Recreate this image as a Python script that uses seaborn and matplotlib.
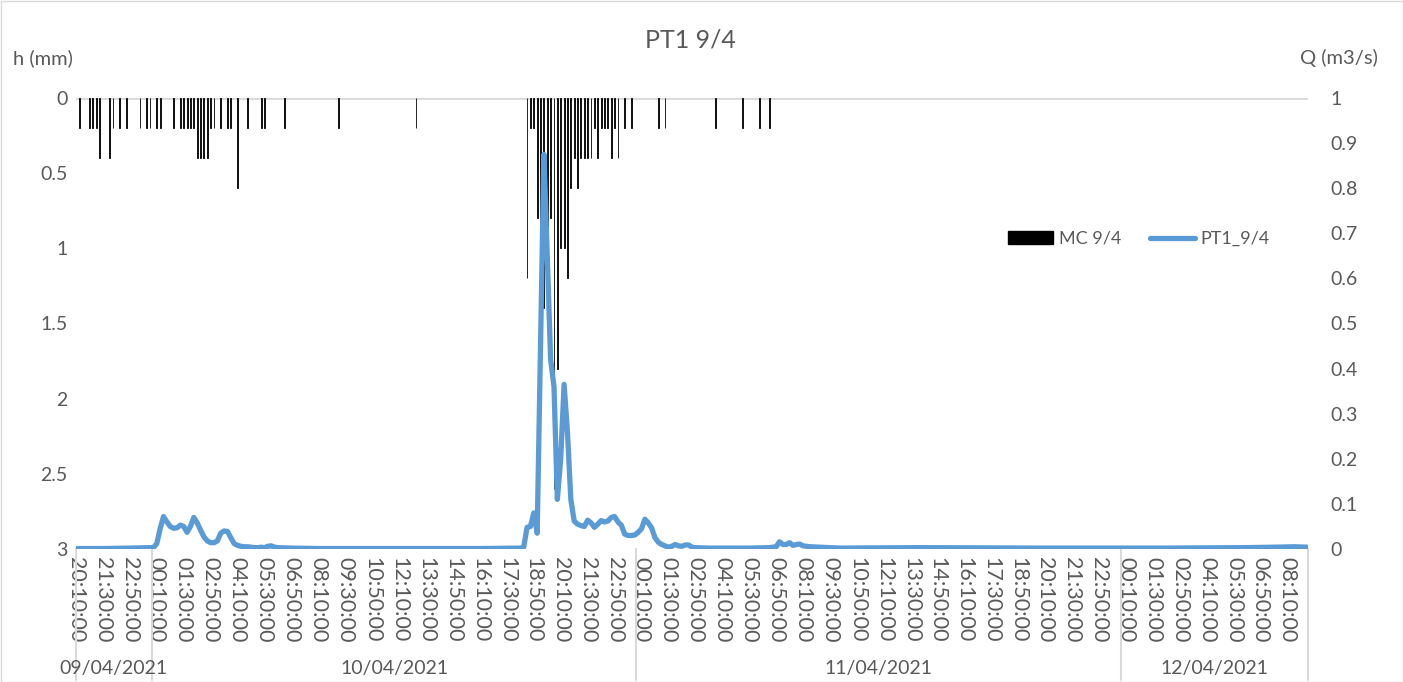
import matplotlib.pyplot as plt
import pandas as pd
import seaborn as sns
from matplotlib.lines import Line2D
from matplotlib.patches import Patch, Rectangle

# rain gauge (MC 9/4), mm per 10 min
rain_times = [
    "2021-04-09 20:20", "2021-04-09 20:50", "2021-04-09 21:00", "2021-04-09 21:10",
    "2021-04-09 21:20", "2021-04-09 21:50", "2021-04-09 22:00", "2021-04-09 22:20",
    "2021-04-09 22:40", "2021-04-09 23:20", "2021-04-09 23:40", "2021-04-09 23:50",
    "2021-04-10 00:10", "2021-04-10 00:20", "2021-04-10 01:00", "2021-04-10 01:20",
    "2021-04-10 01:30", "2021-04-10 01:40", "2021-04-10 01:50", "2021-04-10 02:00",
    "2021-04-10 02:10", "2021-04-10 02:20", "2021-04-10 02:30", "2021-04-10 02:40",
    "2021-04-10 02:50", "2021-04-10 03:00", "2021-04-10 03:20", "2021-04-10 03:40",
    "2021-04-10 03:50", "2021-04-10 04:10", "2021-04-10 04:40", "2021-04-10 05:20",
    "2021-04-10 05:30", "2021-04-10 06:30", "2021-04-10 09:10", "2021-04-10 13:00",
    "2021-04-10 18:30", "2021-04-10 18:40", "2021-04-10 18:50", "2021-04-10 19:00",
    "2021-04-10 19:10", "2021-04-10 19:20", "2021-04-10 19:30", "2021-04-10 19:40",
    "2021-04-10 19:50", "2021-04-10 20:00", "2021-04-10 20:10", "2021-04-10 20:20",
    "2021-04-10 20:30", "2021-04-10 20:40", "2021-04-10 20:50", "2021-04-10 21:00",
    "2021-04-10 21:10", "2021-04-10 21:20", "2021-04-10 21:30", "2021-04-10 21:40",
    "2021-04-10 21:50", "2021-04-10 22:00", "2021-04-10 22:10", "2021-04-10 22:20",
    "2021-04-10 22:30", "2021-04-10 22:40", "2021-04-10 22:50", "2021-04-10 23:00",
    "2021-04-10 23:20", "2021-04-10 23:40", "2021-04-11 01:00", "2021-04-11 01:20",
    "2021-04-11 03:50", "2021-04-11 05:10", "2021-04-11 06:00", "2021-04-11 06:30",
]
rain_mm = [
    0.2, 0.2, 0.2, 0.2,
    0.4, 0.4, 0.2, 0.2,
    0.2, 0.2, 0.2, 0.2,
    0.2, 0.2, 0.2, 0.2,
    0.2, 0.2, 0.2, 0.2,
    0.4, 0.4, 0.4, 0.4,
    0.2, 0.2, 0.2, 0.2,
    0.2, 0.6, 0.2, 0.2,
    0.2, 0.2, 0.2, 0.2,
    1.2, 0.2, 0.2, 0.8,
    1.0, 1.4, 1.2, 0.8,
    2.6, 1.8, 1.0, 1.0,
    1.2, 0.6, 0.4, 0.6,
    0.4, 0.4, 0.4, 0.4,
    0.2, 0.4, 0.2, 0.2,
    0.2, 0.4, 0.2, 0.4,
    0.2, 0.2, 0.2, 0.2,
    0.2, 0.2, 0.2, 0.2,
]

# discharge PT1_9/4, m3/s
flow_times = [
    "2021-04-09 20:10", "2021-04-09 21:30", "2021-04-09 22:50", "2021-04-09 23:50",
    "2021-04-10 00:00", "2021-04-10 00:10", "2021-04-10 00:20", "2021-04-10 00:30",
    "2021-04-10 00:40", "2021-04-10 00:50", "2021-04-10 01:00", "2021-04-10 01:10",
    "2021-04-10 01:20", "2021-04-10 01:30", "2021-04-10 01:40", "2021-04-10 01:50",
    "2021-04-10 02:00", "2021-04-10 02:10", "2021-04-10 02:20", "2021-04-10 02:30",
    "2021-04-10 02:40", "2021-04-10 02:50", "2021-04-10 03:00", "2021-04-10 03:10",
    "2021-04-10 03:20", "2021-04-10 03:30", "2021-04-10 03:40", "2021-04-10 03:50",
    "2021-04-10 04:00", "2021-04-10 04:10", "2021-04-10 04:20", "2021-04-10 04:30",
    "2021-04-10 04:40", "2021-04-10 04:50", "2021-04-10 05:00", "2021-04-10 05:10",
    "2021-04-10 05:20", "2021-04-10 05:30", "2021-04-10 05:40", "2021-04-10 05:50",
    "2021-04-10 06:00", "2021-04-10 06:10", "2021-04-10 06:50", "2021-04-10 08:10",
    "2021-04-10 12:10", "2021-04-10 16:10", "2021-04-10 18:10", "2021-04-10 18:20",
    "2021-04-10 18:30", "2021-04-10 18:40", "2021-04-10 18:50", "2021-04-10 19:00",
    "2021-04-10 19:10", "2021-04-10 19:20", "2021-04-10 19:30", "2021-04-10 19:40",
    "2021-04-10 19:50", "2021-04-10 20:00", "2021-04-10 20:10", "2021-04-10 20:20",
    "2021-04-10 20:30", "2021-04-10 20:40", "2021-04-10 20:50", "2021-04-10 21:00",
    "2021-04-10 21:10", "2021-04-10 21:20", "2021-04-10 21:30", "2021-04-10 21:40",
    "2021-04-10 21:50", "2021-04-10 22:00", "2021-04-10 22:10", "2021-04-10 22:20",
    "2021-04-10 22:30", "2021-04-10 22:40", "2021-04-10 22:50", "2021-04-10 23:00",
    "2021-04-10 23:10", "2021-04-10 23:20", "2021-04-10 23:30", "2021-04-10 23:40",
    "2021-04-10 23:50", "2021-04-11 00:00", "2021-04-11 00:10", "2021-04-11 00:20",
    "2021-04-11 00:30", "2021-04-11 00:40", "2021-04-11 00:50", "2021-04-11 01:00",
    "2021-04-11 01:10", "2021-04-11 01:20", "2021-04-11 01:30", "2021-04-11 01:40",
    "2021-04-11 01:50", "2021-04-11 02:00", "2021-04-11 02:10", "2021-04-11 02:20",
    "2021-04-11 02:30", "2021-04-11 02:40", "2021-04-11 02:50", "2021-04-11 03:30",
    "2021-04-11 05:30", "2021-04-11 06:30", "2021-04-11 06:50", "2021-04-11 07:00",
    "2021-04-11 07:10", "2021-04-11 07:20", "2021-04-11 07:30", "2021-04-11 07:40",
    "2021-04-11 07:50", "2021-04-11 08:00", "2021-04-11 08:10", "2021-04-11 08:30",
    "2021-04-11 09:00", "2021-04-11 10:00", "2021-04-11 14:00", "2021-04-11 20:00",
    "2021-04-12 02:00", "2021-04-12 06:00", "2021-04-12 07:30", "2021-04-12 08:30",
    "2021-04-12 09:10",
]
flow_q = [
    0.001, 0.001, 0.002, 0.003,
    0.003, 0.012, 0.045, 0.072,
    0.060, 0.050, 0.046, 0.047,
    0.053, 0.050, 0.037, 0.050,
    0.070, 0.058, 0.042, 0.027,
    0.018, 0.014, 0.014, 0.018,
    0.035, 0.040, 0.039, 0.025,
    0.012, 0.008, 0.006, 0.005,
    0.005, 0.004, 0.003, 0.003,
    0.004, 0.003, 0.006, 0.007,
    0.004, 0.003, 0.002, 0.001,
    0.001, 0.001, 0.002, 0.004,
    0.048, 0.050, 0.080, 0.035,
    0.450, 0.875, 0.650, 0.420,
    0.360, 0.110, 0.200, 0.365,
    0.260, 0.110, 0.062, 0.055,
    0.052, 0.050, 0.064, 0.058,
    0.048, 0.055, 0.063, 0.060,
    0.062, 0.070, 0.072, 0.060,
    0.053, 0.033, 0.030, 0.030,
    0.031, 0.037, 0.045, 0.066,
    0.058, 0.047, 0.025, 0.015,
    0.010, 0.007, 0.004, 0.006,
    0.010, 0.007, 0.006, 0.009,
    0.009, 0.004, 0.003, 0.002,
    0.002, 0.003, 0.005, 0.016,
    0.010, 0.010, 0.014, 0.008,
    0.010, 0.011, 0.007, 0.005,
    0.004, 0.002, 0.003, 0.002,
    0.002, 0.003, 0.004, 0.005,
    0.004,
]

day_labels = ["09/04/2021", "10/04/2021", "11/04/2021", "12/04/2021"]
day_edges = ["2021-04-09 20:10", "2021-04-09 23:55", "2021-04-10 23:55",
             "2021-04-11 23:55", "2021-04-12 09:10"]
h_ticks = [0, 0.5, 1, 1.5, 2, 2.5, 3]
q_ticks = [0, 0.1, 0.2, 0.3, 0.4, 0.5, 0.6, 0.7, 0.8, 0.9, 1]

sns.set_theme(style="white")
plt.rcParams["font.family"] = ["Lato", "DejaVu Sans"]
grey = "#595959"
blue = "#5B9BD5"

rain = pd.DataFrame({"time": pd.to_datetime(rain_times), "h": rain_mm})
flow = pd.DataFrame({"time": pd.to_datetime(flow_times), "q": flow_q})
edges = pd.to_datetime(day_edges)

W, H = 1403, 682
fig = plt.figure(figsize=(W / 100, H / 100), dpi=100)
ax = fig.add_axes([76 / W, 1 - 549 / H, (1308 - 76) / W, (549 - 98) / H])

ax.axhline(0, color="#D9D9D9", lw=2, zorder=0)
ax.bar(rain["time"], rain["h"], width=2.5 / 1440, color="black",
       edgecolor="black", linewidth=0.6, zorder=2)
ax.set_ylim(3, 0)
ax.set_yticks(h_ticks)
ax.set_yticklabels([f"{v:g}" for v in h_ticks], fontsize=14, color=grey)

ticks = pd.date_range("2021-04-09 20:10", "2021-04-12 08:10", freq="80min")
ax.set_xlim(edges[0], edges[-1])
ax.set_xticks(ticks)
ax.set_xticklabels([t.strftime("%H:%M:%S") for t in ticks], rotation=-90,
                   fontsize=15.5, color=grey)
ax.tick_params(axis="both", length=0, pad=6)

ax2 = ax.twinx()
sns.lineplot(data=flow, x="time", y="q", ax=ax2, color=blue, lw=3.8,
             legend=False, solid_joinstyle="round", solid_capstyle="round")
ax2.set_ylim(0, 1)
ax2.set_yticks(q_ticks)
ax2.set_yticklabels([f"{v:g}" for v in q_ticks], fontsize=14, color=grey)
ax2.tick_params(axis="y", length=0, pad=16)
ax2.set_xlabel("")
ax2.set_ylabel("")
ax.set_xlabel("")
ax.set_ylabel("")
for a in (ax, ax2):
    for s in a.spines.values():
        s.set_visible(False)

# multi-level date axis
trans = ax.get_xaxis_transform()
for t in edges:
    ax.plot([t, t], [0, -0.29], transform=trans, color="#D9D9D9", lw=1.5,
            clip_on=False)
for i, lab in enumerate(day_labels):
    mid = edges[i] + (edges[i + 1] - edges[i]) / 2
    ax.text(mid, -0.266, lab, transform=trans, ha="center", va="center",
            fontsize=14, color=grey)

fig.text(690 / W, 1 - 40 / H, "PT1 9/4", ha="center", va="center",
         fontsize=18, color=grey)
fig.text(13 / W, 1 - 58 / H, "h (mm)", ha="left", va="center",
         fontsize=14.5, color=grey)
fig.text(1378 / W, 1 - 58 / H, "Q (m3/s)", ha="right", va="center",
         fontsize=14.5, color=grey)

handles = [Patch(facecolor="black", edgecolor="black"),
           Line2D([], [], color=blue, lw=3.8)]
fig.legend(handles, ["MC 9/4", "PT1_9/4"], loc="center left",
           bbox_to_anchor=(992 / W, 1 - 239 / H), ncol=2, frameon=False,
           fontsize=13, handlelength=2.5, handleheight=0.75,
           handletextpad=0.3, columnspacing=1.6, labelcolor=grey)

fig.add_artist(Rectangle((0.5 / W, 0.5 / H), 1 - 1 / W, 1 - 1 / H,
                         transform=fig.transFigure, fill=False,
                         edgecolor="#D9D9D9", lw=1))

fig.savefig("out.png", dpi=100)
plt.close()
